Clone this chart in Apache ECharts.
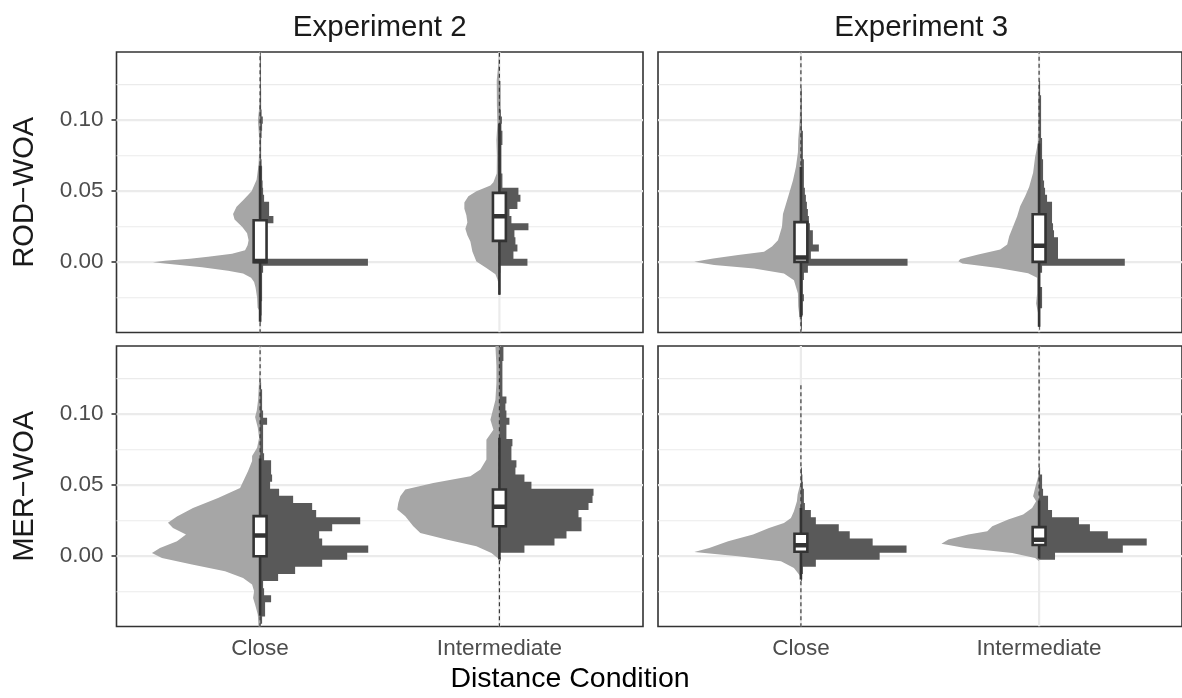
<!DOCTYPE html>
<html>
<head>
<meta charset="utf-8">
<script src="https://cdn.jsdelivr.net/npm/echarts@6/dist/echarts.min.js"></script>
<style>
  html, body { margin: 0; padding: 0; background: #ffffff; }
  #chart { width: 1182px; height: 698px; }
</style>
</head>
<body>
<div id="chart"></div>
<script>
// ---- facet labels and axes ----
const experiments = ['Experiment 2', 'Experiment 3'];
const measures = ['ROD\u2212WOA', 'MER\u2212WOA'];
const conditions = ['Close', 'Intermediate'];
const yTickValues = [0, 0.05, 0.10];
const yMinorValues = [-0.025, 0.025, 0.075, 0.125];
const xAxisTitle = 'Distance Condition';

// ---- box statistics per condition: [lower whisker, Q1, median, Q3, upper whisker] ----
const boxExp2Rod = [[-0.042, 0.0, 0.0008, 0.0295, 0.068], [-0.023, 0.015, 0.0324, 0.0488, 0.0977]];
const boxExp3Rod = [[-0.0385, 0.0002, 0.0033, 0.0282, 0.067], [-0.0455, 0.0002, 0.0115, 0.0338, 0.0836]];
const boxExp2Mer = [[-0.042, 0.0, 0.0146, 0.0282, 0.0688], [-0.0023, 0.0211, 0.0348, 0.047, 0.0834]];
const boxExp3Mer = [[-0.0164, 0.0031, 0.0077, 0.0158, 0.034], [-0.0017, 0.0079, 0.0115, 0.0205, 0.0392]];

// ---- data range per condition (outliers): [min, max] ----
const extentExp2Rod = [[-0.05, 0.15], [-0.023, 0.15]];
const extentExp3Rod = [[-0.05, 0.15], [-0.0455, 0.15]];
const extentExp2Mer = [[-0.05, 0.15], [-0.05, 0.15]];
const extentExp3Mer = [[-0.05, 0.122], [-0.0017, 0.15]];

// ---- half-violin density profiles: [value, density] ----
const violinExp2RodClose = [[-0.035,0],[-0.032,2.5],[-0.025,3],[-0.018,4.5],[-0.014,6],[-0.011,9],[-0.008,17],[-0.006,32],[-0.0035,58],[-0.001,95],[0,107],[0.001,95],[0.0025,70],[0.0038,52],[0.006,28],[0.0085,15],[0.012,12.5],[0.0155,11.5],[0.0203,13],[0.025,18],[0.03,25.5],[0.034,27],[0.039,23.5],[0.044,16.5],[0.05,8.5],[0.058,3.5],[0.068,1.6],[0.08,0.8],[0.09,1.2],[0.1,2.2],[0.108,1],[0.12,0]];
const violinExp2RodInter = [[-0.018,0],[-0.012,2],[-0.0085,4],[-0.004,13],[0.0005,23],[0.0075,27],[0.0146,29],[0.019,32],[0.0235,34],[0.028,32],[0.033,33],[0.0376,35],[0.042,35],[0.0465,31],[0.05,23],[0.054,9],[0.0563,6],[0.0625,2.7],[0.075,2.5],[0.086,3],[0.0977,2],[0.11,2.5],[0.128,2.7],[0.14,1],[0.148,0.5]];
const violinExp3RodClose = [[-0.045,0],[-0.041,1],[-0.031,2.7],[-0.022,3],[-0.0127,7],[-0.008,17],[-0.0045,47],[-0.002,87],[0.0003,107],[0.0026,88],[0.005,63],[0.0073,37],[0.011,29],[0.0155,23],[0.0249,19],[0.034,18],[0.041,15],[0.048,12],[0.0575,8],[0.067,5],[0.0775,3],[0.086,2.7],[0.1,1.2],[0.12,0.5],[0.13,0]];
const violinExp3RodInter = [[-0.04,0],[-0.036,1],[-0.029,3],[-0.022,2],[-0.011,2],[-0.0077,11],[-0.004,41],[-0.001,77],[0.0007,81],[0.0023,79],[0.0054,61],[0.0089,39],[0.0124,32],[0.0183,30],[0.0253,26],[0.0324,22],[0.0394,19],[0.0465,14],[0.053,10],[0.063,6],[0.074,4],[0.0836,1.3],[0.1,1],[0.114,1],[0.13,0]];
const violinExp2MerClose = [[-0.052,1.5],[-0.048,1.7],[-0.0411,2.3],[-0.034,5],[-0.0294,7],[-0.0247,6],[-0.02,8],[-0.0153,17],[-0.0106,35],[-0.0059,68],[-0.0012,98],[0.0023,108],[0.0058,100],[0.0105,83],[0.0152,74],[0.0199,87],[0.0235,92],[0.028,83],[0.034,67],[0.041,42],[0.0481,20],[0.06,12],[0.067,8],[0.0705,8],[0.0764,3],[0.0834,1],[0.0905,2.3],[0.098,5],[0.1025,3.3],[0.11,2],[0.124,1],[0.13,0]];
const violinExp2MerInter = [[-0.0024,0],[0.0023,8],[0.007,23],[0.0117,53],[0.0164,79],[0.0211,86],[0.0281,94],[0.0328,102],[0.0375,101],[0.0422,99],[0.0469,94],[0.0516,66],[0.0563,29],[0.061,19],[0.068,13],[0.075,13],[0.082,13],[0.089,6],[0.096,9],[0.11,4],[0.122,3],[0.134,3],[0.148,4],[0.152,4]];
const violinExp3MerClose = [[-0.015,0],[-0.013,1.7],[-0.0083,7],[-0.0036,20],[-0.0001,63],[0.003,107],[0.0058,92],[0.0105,73],[0.0152,48],[0.0199,32],[0.0234,17],[0.0269,10],[0.0316,7],[0.0387,4],[0.0434,3.3],[0.0481,1.7],[0.052,0]];
const violinExp3MerInter = [[-0.0035,0],[-0.0012,4],[0.0023,27],[0.0058,74],[0.0087,98],[0.0117,91],[0.0152,71],[0.0176,52],[0.0211,47],[0.0258,31],[0.0293,16],[0.034,7],[0.0387,3],[0.0422,6],[0.0481,4],[0.055,1.3],[0.0621,0]];

// ---- histogram counts: [bin centre, count] (bin width 0.005, ascending, contiguous) ----
const histExp2RodClose = [[-0.04,1],[-0.035,1.5],[-0.03,1.5],[-0.025,2],[-0.02,2],[-0.015,2],[-0.01,2],[-0.005,3],[0,107.7],[0.005,3],[0.01,3],[0.015,3],[0.02,4],[0.025,6],[0.03,13.3],[0.035,9],[0.04,9],[0.045,4],[0.05,3],[0.055,2.5],[0.06,2],[0.065,2],[0.07,1.5],[0.075,1],[0.08,1],[0.085,1],[0.09,1.5],[0.095,2],[0.1,2.7],[0.105,1.5],[0.11,1],[0.115,1],[0.12,1],[0.125,0.8],[0.13,0.8],[0.135,0.8],[0.14,0.8],[0.145,0.8]];
const histExp2RodInter = [[-0.02,0.8],[-0.015,0.8],[-0.01,0.8],[-0.005,1],[0,28],[0.005,14],[0.01,18],[0.015,16],[0.02,15],[0.025,29],[0.03,12],[0.035,10],[0.04,18],[0.045,21],[0.05,19],[0.055,3],[0.06,3],[0.065,2],[0.07,2],[0.075,2],[0.08,2],[0.085,3],[0.09,3],[0.095,2],[0.1,2.5],[0.105,1.5],[0.11,1],[0.115,1],[0.12,1],[0.125,1]];
const histExp3RodClose = [[-0.045,1],[-0.04,1],[-0.035,2],[-0.03,2],[-0.025,3],[-0.02,2],[-0.015,2],[-0.01,3],[-0.005,7],[0,107],[0.005,10],[0.01,18],[0.015,12],[0.02,12],[0.025,9],[0.03,8],[0.035,7],[0.04,6],[0.045,5],[0.05,4],[0.055,3],[0.06,3],[0.065,3],[0.07,3],[0.075,2],[0.08,2],[0.085,2],[0.09,2],[0.095,1],[0.1,1],[0.105,0.8],[0.11,0.8],[0.115,0.8],[0.12,0.8]];
const histExp3RodInter = [[-0.045,1],[-0.04,1],[-0.035,1],[-0.03,3],[-0.025,3],[-0.02,3],[-0.015,1],[-0.01,1],[-0.005,3],[0,86],[0.005,19],[0.01,19],[0.015,19],[0.02,15],[0.025,14],[0.03,13],[0.035,13],[0.04,13],[0.045,8],[0.05,6],[0.055,5],[0.06,4],[0.065,4],[0.07,4],[0.075,3],[0.08,3],[0.085,3],[0.09,2],[0.095,2],[0.1,2],[0.105,2],[0.11,2],[0.115,2],[0.12,1],[0.125,1]];
const histExp2MerClose = [[-0.045,2],[-0.04,5],[-0.035,5],[-0.03,11],[-0.025,4],[-0.02,3],[-0.015,18],[-0.01,35],[-0.005,62],[0,87],[0.005,108],[0.01,62],[0.015,59],[0.02,72],[0.025,100],[0.03,56],[0.035,52],[0.04,33],[0.045,19],[0.05,10],[0.055,12],[0.06,11],[0.065,11],[0.07,4],[0.075,3],[0.08,3],[0.085,3],[0.09,3],[0.095,7],[0.1,3],[0.105,2],[0.11,2],[0.115,2],[0.12,1]];
const histExp2MerInter = [[0.005,25],[0.01,55],[0.015,67],[0.02,82],[0.025,82],[0.03,79],[0.035,89],[0.04,93],[0.045,94],[0.05,32],[0.055,25],[0.06,16],[0.065,17],[0.07,12],[0.075,12],[0.08,13],[0.085,7],[0.09,7],[0.095,10],[0.1,7],[0.105,6],[0.11,7],[0.115,3],[0.12,3],[0.125,3],[0.13,3],[0.135,3],[0.14,4],[0.145,4]];
const histExp3MerClose = [[-0.015,1],[-0.01,2],[-0.005,15],[0,79],[0.005,106],[0.01,72],[0.015,49],[0.02,38],[0.025,15],[0.03,10],[0.035,4],[0.04,3],[0.045,3],[0.05,2],[0.055,1.5],[0.06,1]];
const histExp3MerInter = [[0,16],[0.005,84],[0.01,108],[0.015,69],[0.02,51],[0.025,40],[0.03,13],[0.035,9],[0.04,9],[0.045,4],[0.05,3],[0.055,3],[0.06,1]];

// ---- scales and layout ----
const BIN = 0.005;
const DENS_TO_X = 1 / 239;      // density / count units -> category units
const BOX_HALF = 0.027;         // half box width in category units
const X_MIN = 0.4, X_MAX = 2.6;
const Y_MIN = -0.0495, Y_MAX = 0.148;
const FONT = '"Liberation Sans", Arial, Helvetica, sans-serif';

const panels = [
  { boxes: boxExp2Rod, extents: extentExp2Rod, violins: [violinExp2RodClose, violinExp2RodInter], hists: [histExp2RodClose, histExp2RodInter] },
  { boxes: boxExp3Rod, extents: extentExp3Rod, violins: [violinExp3RodClose, violinExp3RodInter], hists: [histExp3RodClose, histExp3RodInter] },
  { boxes: boxExp2Mer, extents: extentExp2Mer, violins: [violinExp2MerClose, violinExp2MerInter], hists: [histExp2MerClose, histExp2MerInter] },
  { boxes: boxExp3Mer, extents: extentExp3Mer, violins: [violinExp3MerClose, violinExp3MerInter], hists: [histExp3MerClose, histExp3MerInter] }
];

const colLeft = [116.5, 658];
const rowTop = [52, 346];
const PANEL_W = 526.5, PANEL_H = 280.5;

const grids = [], xAxes = [], yAxes = [], series = [];

panels.forEach((panel, i) => {
  const col = i % 2, row = Math.floor(i / 2);
  grids.push({
    left: colLeft[col], top: rowTop[row], width: PANEL_W, height: PANEL_H,
    show: true, borderColor: '#333333', borderWidth: 1.6, backgroundColor: '#ffffff', containLabel: false
  });
  xAxes.push({
    type: 'value', gridIndex: i, min: X_MIN, max: X_MAX,
    axisLine: { show: false },
    splitLine: { show: false },
    axisTick: { show: row === 1, customValues: [1, 2], length: 5, lineStyle: { color: '#333333', width: 1.6 } },
    axisLabel: {
      show: row === 1, customValues: [1, 2], margin: 11,
      formatter: v => conditions[Math.round(v) - 1] || '',
      color: '#4d4d4d', fontSize: 22.5, fontFamily: FONT
    }
  });
  yAxes.push({
    type: 'value', gridIndex: i, min: Y_MIN, max: Y_MAX,
    axisLine: { show: false },
    splitLine: { show: false },
    axisTick: { show: col === 0, customValues: yTickValues, length: 5, lineStyle: { color: '#333333', width: 1.6 } },
    axisLabel: {
      show: col === 0, customValues: yTickValues, margin: 13,
      formatter: v => v.toFixed(2),
      color: '#4d4d4d', fontSize: 22.5, fontFamily: FONT
    }
  });

  // panel grid lines
  series.push({
    type: 'custom', xAxisIndex: i, yAxisIndex: i, silent: true, clip: true, z: 1,
    data: [[1, 0]],
    renderItem: (params, api) => {
      const children = [];
      const xa = api.coord([X_MIN, 0])[0], xb = api.coord([X_MAX, 0])[0];
      yMinorValues.forEach(v => {
        const y = api.coord([X_MIN, v])[1];
        children.push({ type: 'line', shape: { x1: xa, y1: y, x2: xb, y2: y }, style: { stroke: '#ebebeb', lineWidth: 1.1 } });
      });
      yTickValues.forEach(v => {
        const y = api.coord([X_MIN, v])[1];
        children.push({ type: 'line', shape: { x1: xa, y1: y, x2: xb, y2: y }, style: { stroke: '#ebebeb', lineWidth: 2.2 } });
      });
      conditions.forEach((c, k) => {
        const p0 = api.coord([k + 1, Y_MIN]), p1 = api.coord([k + 1, Y_MAX]);
        children.push({ type: 'line', shape: { x1: p0[0], y1: p0[1], x2: p1[0], y2: p1[1] }, style: { stroke: '#ebebeb', lineWidth: 2.2 } });
      });
      return { type: 'group', children };
    }
  });

  // half violins (left of each category)
  series.push({
    type: 'custom', xAxisIndex: i, yAxisIndex: i, silent: true, clip: true, z: 2,
    data: conditions.map((c, k) => [k + 1, 0]),
    renderItem: (params, api) => {
      const xc = api.value(0);
      const prof = panel.violins[params.dataIndex];
      const pts = prof.map(([v, d]) => api.coord([xc - d * DENS_TO_X, v]));
      pts.push(api.coord([xc, prof[prof.length - 1][0]]));
      pts.push(api.coord([xc, prof[0][0]]));
      return { type: 'polygon', shape: { points: pts }, style: { fill: '#a6a6a6' } };
    }
  });

  // histograms (right of each category), drawn as one stepped outline per condition
  series.push({
    type: 'custom', xAxisIndex: i, yAxisIndex: i, silent: true, clip: true, z: 3,
    data: conditions.map((c, k) => [k + 1, 0]),
    renderItem: (params, api) => {
      const xc = api.value(0);
      const bins = panel.hists[params.dataIndex];
      const pts = [api.coord([xc, bins[0][0] - BIN / 2])];
      bins.forEach(([c, n]) => {
        pts.push(api.coord([xc + n * DENS_TO_X, c - BIN / 2]));
        pts.push(api.coord([xc + n * DENS_TO_X, c + BIN / 2]));
      });
      pts.push(api.coord([xc, bins[bins.length - 1][0] + BIN / 2]));
      return { type: 'polygon', shape: { points: pts }, style: { fill: '#595959' } };
    }
  });

  // outliers, whiskers and boxes
  series.push({
    type: 'custom', xAxisIndex: i, yAxisIndex: i, silent: true, clip: true, z: 4,
    data: panel.boxes.map((b, k) => [k + 1].concat(b, panel.extents[k])),
    renderItem: (params, api) => {
      const xc = api.value(0);
      const lw = api.value(1), q1 = api.value(2), med = api.value(3), q3 = api.value(4), uw = api.value(5);
      const lo = api.value(6), hi = api.value(7);
      const P = v => api.coord([xc, v]);
      const children = [];
      const a = P(lo), b = P(hi);
      children.push({ type: 'line', shape: { x1: a[0], y1: a[1], x2: b[0], y2: b[1] }, style: { stroke: '#3a3a3a', lineWidth: 1.2, lineDash: [4, 3] } });
      const w0 = P(lw), w1 = P(uw);
      children.push({ type: 'line', shape: { x1: w0[0], y1: w0[1], x2: w1[0], y2: w1[1] }, style: { stroke: '#333333', lineWidth: 2.6 } });
      const tl = api.coord([xc - BOX_HALF, q3]), br = api.coord([xc + BOX_HALF, q1]);
      children.push({ type: 'rect', shape: { x: tl[0], y: tl[1], width: br[0] - tl[0], height: br[1] - tl[1] }, style: { fill: '#ffffff', stroke: '#333333', lineWidth: 2.6 } });
      const m0 = api.coord([xc - BOX_HALF, med]), m1 = api.coord([xc + BOX_HALF, med]);
      children.push({ type: 'line', shape: { x1: m0[0], y1: m0[1], x2: m1[0], y2: m1[1] }, style: { stroke: '#333333', lineWidth: 4.5 } });
      return { type: 'group', children };
    }
  });
});

// facet strips and axis title
const graphics = [];
experiments.forEach((e, c) => {
  graphics.push({ type: 'text', x: colLeft[c] + PANEL_W / 2, y: 28, silent: true,
    style: { text: e, fill: '#1a1a1a', font: '29.5px ' + FONT, align: 'center', verticalAlign: 'middle' } });
});
measures.forEach((m, r) => {
  graphics.push({ type: 'text', x: 25, y: rowTop[r] + PANEL_H / 2, rotation: Math.PI / 2, silent: true,
    style: { text: m, fill: '#1a1a1a', font: '29px ' + FONT, align: 'center', verticalAlign: 'middle' } });
});
graphics.push({ type: 'text', x: 570, y: 679, silent: true,
  style: { text: xAxisTitle, fill: '#000000', font: '28.5px ' + FONT, align: 'center', verticalAlign: 'middle' } });

const chart = echarts.init(document.getElementById('chart'), null, { renderer: 'canvas' });
chart.setOption({
  animation: false,
  backgroundColor: '#ffffff',
  grid: grids,
  xAxis: xAxes,
  yAxis: yAxes,
  series: series,
  graphic: graphics
});
</script>
</body>
</html>
